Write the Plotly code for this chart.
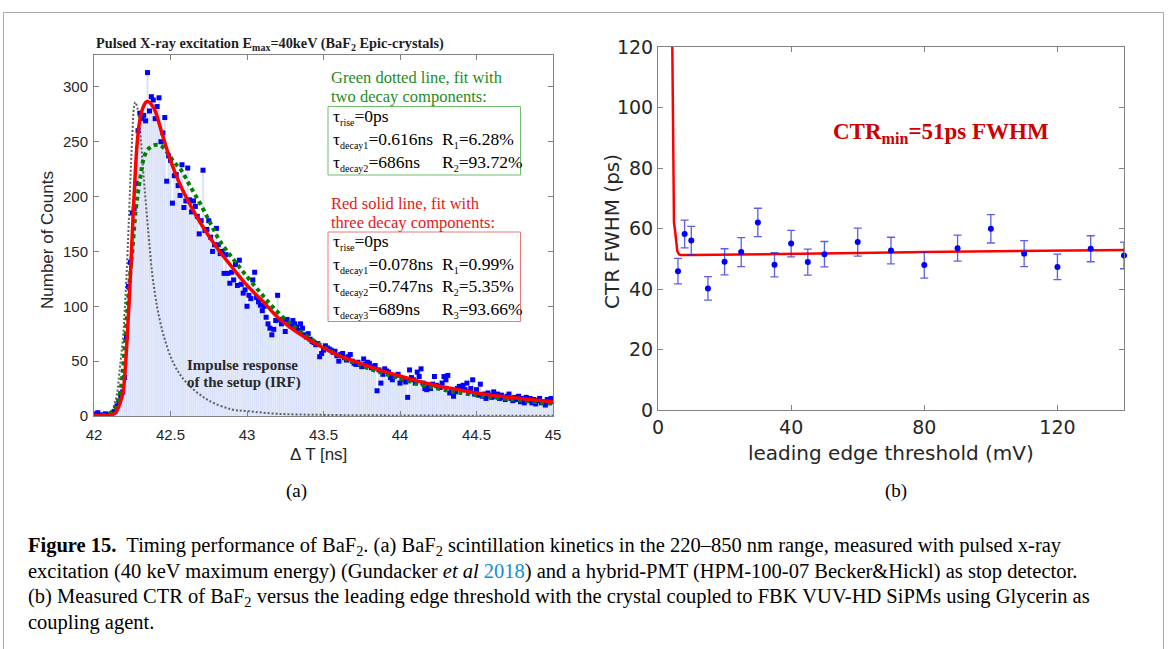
import plotly.graph_objects as go

# ---------------- Panel (a) data ----------------
bin_start = 42.0
bin_width = 0.0125
counts = [
    2, 1, 3, 1, 0, 1, 2, 0, 1, 2,
    3, 4, 9, 13, 18, 22, 35, 72, 118, 140,
    185, 189, 212, 260, 276, 271, 274, 269, 313, 278,
    291, 288, 271, 282, 290, 250, 258, 272, 214, 237,
    233, 194, 219, 220, 210, 201, 229, 190, 196, 226,
    197, 186, 196, 191, 182, 166, 178, 224, 169, 170,
    178, 163, 150, 156, 171, 156, 148, 150, 130, 147,
    130, 121, 131, 124, 138, 119, 142, 120, 112, 115,
    100, 110, 107, 124, 131, 108, 104, 101, 96, 100,
    90, 84, 80, 74, 79, 87, 110, 88, 84, 86,
    77, 88, 84, 82, 87, 84, 81, 78, 84, 80,
    74, 72, 75, 70, 68, 67, 65, 66, 54, 57,
    60, 64, 62, 61, 60, 58, 59, 55, 50, 56,
    57, 53, 51, 54, 56, 50, 48, 47, 49, 47,
    45, 52, 47, 49, 48, 44, 45, 46, 23, 42,
    30, 38, 43, 41, 40, 35, 33, 36, 37, 38,
    30, 34, 33, 31, 17, 42, 35, 33, 30, 40,
    36, 43, 30, 25, 24, 26, 25, 29, 36, 28,
    27, 26, 30, 36, 33, 37, 21, 24, 18, 22,
    25, 27, 26, 28, 24, 30, 22, 25, 33, 20,
    24, 19, 29, 18, 20, 16, 21, 19, 17, 22,
    18, 20, 16, 19, 17, 15, 18, 20, 16, 14,
    17, 15, 18, 13, 16, 12, 17, 14, 16, 12,
    15, 11, 14, 16, 12, 13, 10, 15, 12, 16,
    13,
]
bin_x = [round(bin_start + bin_width * i, 4) for i in range(len(counts))]

# three-component fit (red solid)
fit3_x = [42.0, 42.1, 42.14, 42.16, 42.175, 42.19, 42.2, 42.21, 42.22, 42.23, 42.24,
          42.25, 42.26, 42.27, 42.28, 42.29, 42.3, 42.32, 42.34, 42.355, 42.38, 42.4,
          42.45, 42.5, 42.55, 42.6, 42.65, 42.7, 42.8, 42.9, 43.0, 43.1, 43.2, 43.3,
          43.4, 43.5, 43.6, 43.7, 43.8, 43.9, 44.0, 44.1, 44.2, 44.3, 44.4, 44.5,
          44.6, 44.7, 44.8, 44.9, 45.0]
fit3_y = [0.5, 0.8, 3, 8, 14, 22, 35, 55, 80, 105, 135,
          165, 195, 222, 245, 260, 270, 281, 286, 286.5, 283, 278,
          255, 233, 215, 200, 187, 175, 154, 136, 119, 105, 90, 79,
          70, 62, 55, 50, 45, 40.5, 36.5, 32.5, 29, 26, 23.5, 21,
          19, 17.3, 15.8, 14.3, 13]

# two-component fit (green dotted)
fit2_x = [42.0, 42.08, 42.11, 42.14, 42.16, 42.18, 42.2, 42.225, 42.25, 42.275, 42.3,
          42.33, 42.36, 42.4, 42.44, 42.48, 42.52, 42.57, 42.63, 42.7, 42.76, 42.82,
          42.91, 43.0, 43.09, 43.17, 43.3, 43.4, 43.5, 43.6, 43.7, 43.8, 43.9, 44.0,
          44.1, 44.2, 44.3, 44.4, 44.5, 44.6, 44.7, 44.8, 44.9, 45.0]
fit2_y = [0.3, 1, 3, 8, 15, 30, 62, 110, 150, 190, 215,
          237, 244, 247, 246, 240, 232, 224, 209, 192, 176, 160,
          143, 127, 112, 99, 82, 72, 63, 55, 49, 43, 38.5, 34,
          30, 26.5, 23.5, 21, 19, 17, 15.5, 14, 12.5, 11.5]

# impulse response of the setup (grey dotted)
irf_x = [42.0, 42.08, 42.11, 42.13, 42.15, 42.17, 42.19, 42.2, 42.215, 42.235, 42.25,
         42.262, 42.27, 42.285, 42.3, 42.32, 42.34, 42.36, 42.38, 42.4, 42.42, 42.46,
         42.52, 42.6, 42.74, 42.9, 43.0, 43.2, 43.5, 44.0, 44.5, 45.0]
irf_y = [0, 0.5, 3, 9, 20, 45, 72, 95, 135, 205, 255,
         282, 286, 280, 263, 226, 192, 160, 130, 110, 94, 71,
         48, 31, 15, 6, 4.5, 2, 1, 0.5, 0.3, 0.2]

# ---------------- Panel (b) data ----------------
threshold_mv = [6, 8, 10, 15, 20, 25, 30, 35, 40, 45, 50, 60, 70, 80, 90, 100, 110, 120, 130, 140]
ctr_ps = [45.9, 58.2, 56.0, 40.2, 49.0, 52.2, 62.0, 48.0, 55.0, 48.9, 51.5, 55.5, 52.7,
          47.9, 53.5, 59.9, 51.7, 47.3, 53.3, 51.1]
ctr_err = [4.2, 4.6, 4.7, 3.9, 4.3, 4.8, 4.7, 4.0, 4.4, 4.3, 4.2, 4.6, 4.4, 4.3, 4.3,
           4.7, 4.3, 4.2, 4.3, 4.4]
ctrfit_x = [4.3, 4.4, 4.5, 4.6, 4.8, 5.1, 5.5, 5.8, 6.3, 6.8, 10, 20, 40, 60, 80, 100, 120, 140]
ctrfit_y = [120, 100, 82, 66, 62, 59.5, 55, 52.5, 51.5, 51.2, 51.2, 51.3, 51.6, 51.9,
            52.2, 52.4, 52.7, 52.9]

W, H = 1168, 649


def px(x):
    return x / W


def py(y):
    return 1 - y / H


fig = go.Figure()

fig.add_trace(go.Bar(x=bin_x, y=counts, width=bin_width,
                     marker=dict(color="rgb(216,225,250)",
                                 line=dict(color="rgb(236,240,253)", width=0.4)),
                     xaxis="x", yaxis="y", showlegend=False))
fig.add_trace(go.Scatter(x=irf_x, y=irf_y, mode="lines", line_shape="spline",
                         line=dict(color="rgb(95,95,95)", width=2, dash="2px,2px"),
                         xaxis="x", yaxis="y", showlegend=False))
fig.add_trace(go.Scatter(x=bin_x, y=counts, mode="markers",
                         marker=dict(symbol="square", size=5, color="rgb(0,0,255)"),
                         xaxis="x", yaxis="y", showlegend=False, cliponaxis=True))
fig.add_trace(go.Scatter(x=fit2_x, y=fit2_y, mode="lines", line_shape="spline",
                         line=dict(color="rgb(0,128,0)", width=4, dash="4px,3.5px"),
                         xaxis="x", yaxis="y", showlegend=False))
fig.add_trace(go.Scatter(x=fit3_x, y=fit3_y, mode="lines", line_shape="spline",
                         line=dict(color="rgb(255,0,0)", width=3.5),
                         xaxis="x", yaxis="y", showlegend=False))

fig.add_trace(go.Scatter(x=ctrfit_x, y=ctrfit_y, mode="lines",
                         line=dict(color="rgb(255,0,0)", width=2.5),
                         xaxis="x2", yaxis="y2", showlegend=False))
fig.add_trace(go.Scatter(x=threshold_mv, y=ctr_ps, mode="markers",
                         marker=dict(symbol="circle", size=6, color="rgb(0,0,255)"),
                         error_y=dict(type="data", array=ctr_err, visible=True,
                                      color="rgba(40,40,220,0.75)", thickness=1.3, width=4),
                         xaxis="x2", yaxis="y2", showlegend=False, cliponaxis=False))

axis_common = dict(showline=True, linecolor="rgb(130,130,130)", linewidth=1, mirror="ticks",
                   ticks="inside", ticklen=5, tickcolor="rgb(130,130,130)", showgrid=False,
                   zeroline=False, automargin=False)

fig.update_layout(
    template="none",
    width=W, height=H, autosize=False,
    margin=dict(l=0, r=0, t=0, b=0, pad=0, autoexpand=False),
    paper_bgcolor="white", plot_bgcolor="white", showlegend=False,
    xaxis=dict(domain=[px(94), px(553)], range=[42, 45],
               tickvals=[42, 42.5, 43, 43.5, 44, 44.5, 45],
               ticktext=["42", "42.5", "43", "43.5", "44", "44.5", "45"],
               tickfont=dict(family="Liberation Sans", size=15, color="rgb(38,38,38)"),
               ticklabelstandoff=5,
               anchor="y", **axis_common),
    yaxis=dict(domain=[py(416), py(55)], range=[0, 329],
               tickvals=[0, 50, 100, 150, 200, 250, 300],
               tickfont=dict(family="Liberation Sans", size=15, color="rgb(38,38,38)"),
               ticklabelstandoff=2,
               anchor="x", **axis_common),
    xaxis2=dict(domain=[px(658), px(1124)], range=[0, 140], tickvals=[0, 40, 80, 120],
                tickfont=dict(family="DejaVu Sans", size=19, color="rgb(38,38,38)"),
                anchor="y2", **axis_common),
    yaxis2=dict(domain=[py(410), py(47)], range=[0, 120],
                tickvals=[0, 20, 40, 60, 80, 100, 120],
                tickfont=dict(family="DejaVu Sans", size=19, color="rgb(38,38,38)"),
                anchor="x2", **axis_common),
)

serif = "Liberation Serif"
ann = []


def A(x, y, text, size, color="black", family=serif, xanchor="left", yanchor="middle",
      angle=0):
    ann.append(dict(x=px(x), y=py(y), xref="paper", yref="paper", text=text, showarrow=False,
                    xanchor=xanchor, yanchor=yanchor, textangle=angle,
                    font=dict(family=family, size=size, color=color)))


def tau(sub):
    return "τ<sub><span style='font-size:10px'>" + sub + "</span></sub>"


def rr(sub):
    return "R<sub><span style='font-size:10px'>" + sub + "</span></sub>"


# panel (a) texts
A(94, 44, "<b>Pulsed X-ray excitation E<sub>max</sub>=40keV (BaF<sub>2</sub> Epic-crystals)</b>", 14.3,
  color="rgb(30,30,30)")
green = "rgb(30,140,30)"
red = "rgb(225,25,25)"
A(329, 78, "Green dotted line, fit with", 16.5, green)
A(329, 97, "two decay components:", 16.5, green)
A(331, 117, tau("rise") + "=0ps", 17.5)
A(331, 140, tau("decay1") + "=0.616ns", 17.5)
A(440, 140, rr("1") + "=6.28%", 17.5)
A(331, 163, tau("decay2") + "=686ns", 17.5)
A(440, 163, rr("2") + "=93.72%", 17.5)

A(329, 203, "Red solid line, fit with", 16.5, red)
A(329, 222, "three decay components:", 16.5, red)
A(331, 242, tau("rise") + "=0ps", 17.5)
A(331, 265, tau("decay1") + "=0.078ns", 17.5)
A(440, 265, rr("1") + "=0.99%", 17.5)
A(331, 287, tau("decay2") + "=0.747ns", 17.5)
A(440, 287, rr("2") + "=5.35%", 17.5)
A(331, 310, tau("decay3") + "=689ns", 17.5)
A(440, 310, rr("3") + "=93.66%", 17.5)

A(185, 365, "<b>Impulse response</b>", 15, "rgb(40,40,40)")
A(185, 382, "<b>of the setup (IRF)</b>", 15, "rgb(40,40,40)")

A(47, 240, "Number of Counts", 17, "rgb(38,38,38)", family="Liberation Sans", xanchor="center",
  angle=-90)
A(318, 454, "Δ T [ns]", 17, "rgb(38,38,38)", family="Liberation Sans", xanchor="center")

# panel (b) texts
A(941, 133, "<b>CTR<sub>min</sub>=51ps FWHM</b>", 23, "rgb(204,0,0)", xanchor="center")
A(612, 232, "CTR FWHM (ps)", 20, "rgb(38,38,38)", family="DejaVu Sans", xanchor="center",
  angle=-90)
A(891, 453, "leading edge threshold (mV)", 20, "rgb(38,38,38)", family="DejaVu Sans",
  xanchor="center")

A(296, 491, "(a)", 19, xanchor="center")
A(896, 491, "(b)", 19, xanchor="center")

# caption
cap = 20.5
A(26, 546, "<b>Figure 15.</b>  Timing performance of BaF<sub>2</sub>. (a) BaF<sub>2</sub> scintillation "
  "kinetics in the 220–850 nm range, measured with pulsed x-ray", cap)
A(26, 571, "excitation (40 keV maximum energy) (Gundacker <i>et al</i> "
  "<span style='color:rgb(20,140,210)'>2018</span>) and a hybrid-PMT (HPM-100-07 "
  "Becker&amp;Hickl) as stop detector.", cap)
A(26, 597, "(b) Measured CTR of BaF<sub>2</sub> versus the leading edge threshold with the crystal "
  "coupled to FBK VUV-HD SiPMs using Glycerin as", cap)
A(26, 622, "coupling agent.", cap)

fig.update_layout(annotations=ann)

shapes = [
    dict(type="rect", xref="paper", yref="paper", x0=px(328), x1=px(520.5), y0=py(175), y1=py(106.5),
         line=dict(color="rgb(110,190,110)", width=1)),
    dict(type="rect", xref="paper", yref="paper", x0=px(328), x1=px(520.5), y0=py(321.5), y1=py(232),
         line=dict(color="rgb(235,120,120)", width=1)),
    dict(type="rect", xref="paper", yref="paper", x0=px(3.5), x1=px(1163.5), y0=-0.1, y1=py(12.5),
         line=dict(color="rgb(170,170,170)", width=1)),
]
fig.update_layout(shapes=shapes)

fig.write_html("out.html",
               post_script="document.body.style.margin='0';document.body.style.overflow='hidden';")
